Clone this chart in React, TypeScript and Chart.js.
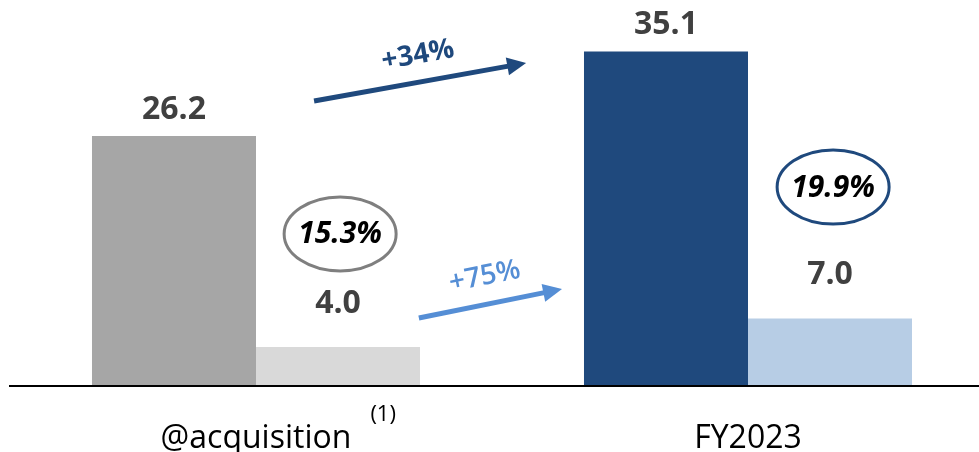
import React, { useEffect, useRef } from "react";
import { Chart, registerables } from "chart.js";

Chart.register(...registerables);

const categories = ["@acquisition", "FY2023"];
const footnotes = ["(1)", ""];
const revenue = [26.2, 35.1];
const profit = [4.0, 7.0];
const margins = ["15.3%", "19.9%"];
const growthLabels = ["+34%", "+75%"];

const revenueColors = ["#a6a6a6", "#1f497d"];
const profitColors = ["#d9d9d9", "#b7cde5"];

const FONT = "'Open Sans', 'Liberation Sans', sans-serif";

// annotation placements in chart coordinates (category index, value)
const marginMarks = [
  { cat: 0.171, val: 15.9, stroke: "#7f7f7f" },
  { cat: 1.173, val: 20.84, stroke: "#1f497d" },
];
const growthArrows = [
  { from: [0.118, 29.9], to: [0.549, 33.9], label: [0.329, 34.7], color: "#1f497d", weight: "bold" },
  { from: [0.331, 7.05], to: [0.622, 10.1], label: [0.465, 11.4], color: "#558ed5", weight: "600" },
];

const overlay = {
  id: "overlay",
  afterDatasetsDraw(chart: any) {
    const { ctx, chartArea, scales } = chart;
    const xs = scales.x;
    const ys = scales.y;
    ctx.save();

    // baseline axis
    ctx.strokeStyle = "#000";
    ctx.lineWidth = 2;
    ctx.beginPath();
    ctx.moveTo(9, chartArea.bottom + 1);
    ctx.lineTo(chart.width, chartArea.bottom + 1);
    ctx.stroke();

    // value labels
    const offsets = [26.5, 43.5];
    ctx.fillStyle = "#404040";
    ctx.font = `bold 32px ${FONT}`;
    ctx.textAlign = "center";
    ctx.textBaseline = "middle";
    chart.data.datasets.forEach((ds: any, di: number) => {
      const meta = chart.getDatasetMeta(di);
      meta.data.forEach((bar: any, i: number) => {
        ctx.fillText(Number(ds.data[i]).toFixed(1), bar.x, bar.y - offsets[di]);
      });
    });

    // margin ellipses
    marginMarks.forEach((m, i) => {
      const cx = xs.getPixelForValue(m.cat);
      const cy = ys.getPixelForValue(m.val);
      ctx.beginPath();
      ctx.ellipse(cx, cy, 56, 37, 0, 0, Math.PI * 2);
      ctx.strokeStyle = m.stroke;
      ctx.lineWidth = 3;
      ctx.stroke();
      ctx.fillStyle = "#000";
      ctx.font = `italic bold 30px ${FONT}`;
      ctx.fillText(margins[i], cx, cy + 1);
    });

    // growth arrows
    growthArrows.forEach((a, i) => {
      const x1 = xs.getPixelForValue(a.from[0]);
      const y1 = ys.getPixelForValue(a.from[1]);
      const x2 = xs.getPixelForValue(a.to[0]);
      const y2 = ys.getPixelForValue(a.to[1]);
      const ang = Math.atan2(y2 - y1, x2 - x1);
      const headLen = 19;
      const headHalf = 9;
      const bx = x2 - headLen * Math.cos(ang);
      const by = y2 - headLen * Math.sin(ang);
      ctx.strokeStyle = a.color;
      ctx.fillStyle = a.color;
      ctx.lineWidth = 5;
      ctx.lineCap = "butt";
      ctx.beginPath();
      ctx.moveTo(x1, y1);
      ctx.lineTo(bx + Math.cos(ang), by + Math.sin(ang));
      ctx.stroke();
      ctx.beginPath();
      ctx.moveTo(x2, y2);
      ctx.lineTo(bx - headHalf * Math.sin(ang), by + headHalf * Math.cos(ang));
      ctx.lineTo(bx + headHalf * Math.sin(ang), by - headHalf * Math.cos(ang));
      ctx.closePath();
      ctx.fill();

      const lx = xs.getPixelForValue(a.label[0]);
      const ly = ys.getPixelForValue(a.label[1]);
      ctx.save();
      ctx.translate(lx, ly);
      ctx.rotate(ang);
      ctx.font = `${a.weight} 28px ${FONT}`;
      ctx.textAlign = "center";
      ctx.textBaseline = "middle";
      ctx.fillText(growthLabels[i], 0, 0);
      ctx.restore();
    });

    // category labels
    ctx.fillStyle = "#000";
    categories.forEach((c, i) => {
      const x = xs.getPixelForValue(i);
      ctx.font = `32px ${FONT}`;
      ctx.textAlign = "center";
      ctx.textBaseline = "alphabetic";
      ctx.fillText(c, x, chartArea.bottom + 63);
      if (footnotes[i]) {
        const w = ctx.measureText(c).width;
        ctx.font = `22px ${FONT}`;
        ctx.textAlign = "left";
        ctx.textBaseline = "middle";
        ctx.fillText(footnotes[i], x + w / 2 + 19, chartArea.bottom + 30);
      }
    });

    ctx.restore();
  },
};

export default function App() {
  const ref = useRef<HTMLCanvasElement | null>(null);
  useEffect(() => {
    if (!ref.current) return;
    const chart = new Chart(ref.current, {
      type: "bar",
      data: {
        labels: categories,
        datasets: [
          { data: revenue, backgroundColor: revenueColors, categoryPercentage: 0.6667, barPercentage: 1 },
          { data: profit, backgroundColor: profitColors, categoryPercentage: 0.6667, barPercentage: 1 },
        ],
      },
      options: {
        responsive: false,
        animation: false,
        devicePixelRatio: 1,
        layout: { padding: { left: 10, right: 6, top: 5, bottom: 67 } },
        plugins: { legend: { display: false }, tooltip: { enabled: false } },
        scales: {
          x: { display: false, offset: true, grid: { display: false } },
          y: { display: false, min: 0, max: 40 },
        },
      },
      plugins: [overlay],
    });
    return () => chart.destroy();
  }, []);
  return (
    <div
      style={{
        position: "fixed",
        left: 0,
        top: 0,
        width: 979,
        height: 452,
        overflow: "hidden",
        background: "#fff",
      }}
    >
      <canvas ref={ref} width={1000} height={452} style={{ width: 1000, height: 452, display: "block" }} />
    </div>
  );
}
